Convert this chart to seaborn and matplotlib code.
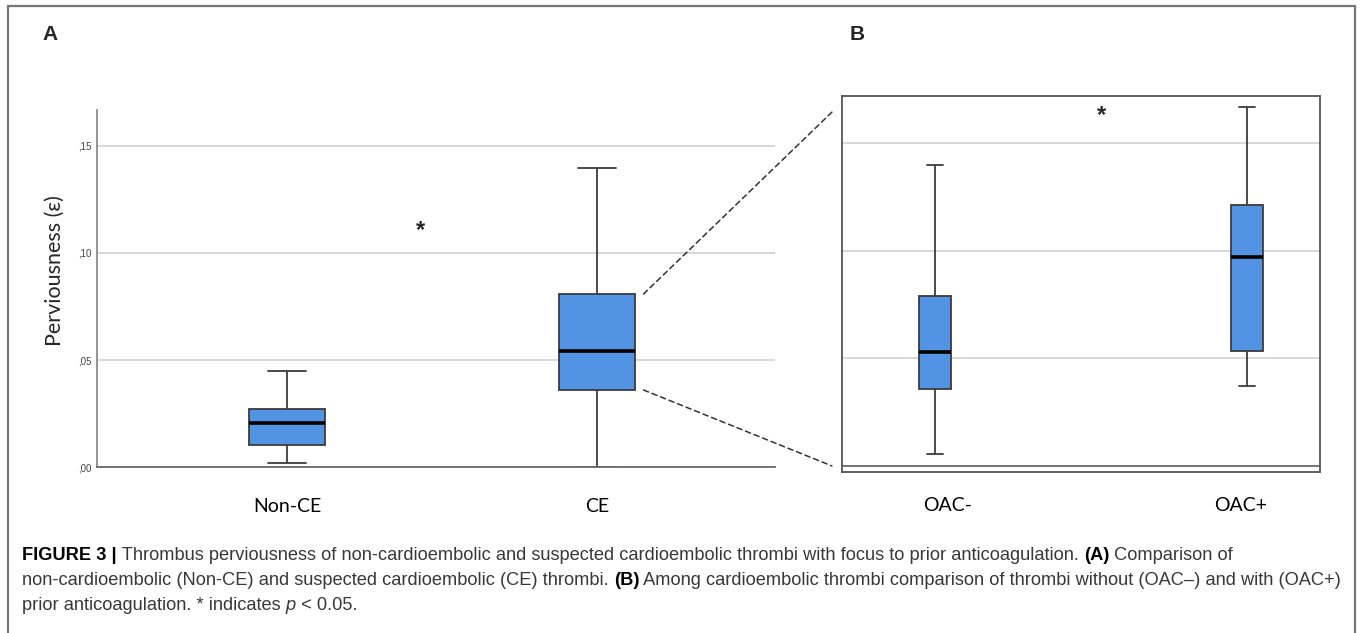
import matplotlib
matplotlib.use("Agg")
import matplotlib.pyplot as plt
from matplotlib.patches import Rectangle, ConnectionPatch
import numpy as np
import pandas as pd
import seaborn as sns

# five-number summaries: min, q1, median, q3, max
groups_a = ["Non-CE", "CE"]
non_ce = [0.0019, 0.0103, 0.0206, 0.0271, 0.0450]
ce = [0.0000, 0.0360, 0.0542, 0.0808, 0.1397]

groups_b = ["OAC-", "OAC+"]
oac_neg = [0.0056, 0.0356, 0.0528, 0.0787, 0.1398]
oac_pos = [0.0370, 0.0532, 0.0968, 0.1213, 0.1667]

yticks_a = [0.00, 0.05, 0.10, 0.15]
yticklabels_a = [",00", ",05", ",10", ",15"]

caption = [
    [("FIGURE 3 |", "bold", "normal"),
     (" Thrombus perviousness of non-cardioembolic and suspected cardioembolic thrombi with focus to prior anticoagulation. ", "normal", "normal"),
     ("(A)", "bold", "normal"), (" Comparison of", "normal", "normal")],
    [("non-cardioembolic (Non-CE) and suspected cardioembolic (CE) thrombi. ", "normal", "normal"),
     ("(B)", "bold", "normal"),
     (" Among cardioembolic thrombi comparison of thrombi without (OAC\u2013) and with (OAC+)", "normal", "normal")],
    [("prior anticoagulation. * indicates ", "normal", "normal"), ("p", "normal", "italic"),
     (" < 0.05.", "normal", "normal")],
]

df_a = pd.DataFrame({"group": np.repeat(groups_a, 5), "value": non_ce + ce})
df_b = pd.DataFrame({"group": np.repeat(groups_b, 5), "value": oac_neg + oac_pos})

sns.set_style("white")
plt.rcParams["font.family"] = ["Liberation Sans", "DejaVu Sans"]

blue = "#5393e3"
edge = "#3c3c3c"
label_font = ["Lato", "DejaVu Sans"]

fig = plt.figure(figsize=(13.6, 6.33), dpi=100)
ax_a = fig.add_axes([0.0713, 0.2622, 0.4985, 0.564])
ax_b = fig.add_axes([0.6191, 0.2544, 0.3515, 0.5940])

box_kws = dict(x="group", y="value", color=blue, saturation=1, whis=(0, 100),
               linecolor=edge, linewidth=1.3, fliersize=0,
               medianprops=dict(color="black", linewidth=2.6))

sns.boxplot(data=df_a, ax=ax_a, width=0.248, **box_kws)
sns.boxplot(data=df_b, ax=ax_b, width=0.103, **box_kws)

# panel A
ax_a.set_xlim(-0.613, 1.574)
ax_a.set_ylim(0, 0.1668)
ax_a.set_yticks(yticks_a)
ax_a.set_yticklabels(yticklabels_a, fontsize=7, color="#444444")
ax_a.yaxis.grid(True, color="#d4d4d4", linewidth=1.3)
ax_a.set_axisbelow(True)
for side in ["top", "right"]:
    ax_a.spines[side].set_visible(False)
ax_a.spines["left"].set_color("#8c8c8c")
ax_a.spines["bottom"].set_color("#6a6a6a")
ax_a.spines["left"].set_linewidth(1.3)
ax_a.spines["bottom"].set_linewidth(1.3)
ax_a.tick_params(axis="both", length=0)
ax_a.tick_params(axis="y", pad=4)
ax_a.tick_params(axis="x", pad=22)
ax_a.set_xlabel("")
ax_a.set_ylabel("Perviousness (\u03b5)", fontsize=15.5, family=label_font)
ax_a.yaxis.label.set_va("center")
ax_a.yaxis.set_label_coords(-0.062, 0.55)
for t in ax_a.get_xticklabels():
    t.set_fontfamily(label_font)
    t.set_fontsize(14)
    t.set_color("black")
ax_a.text(0.43, 0.1107, "*", ha="center", va="center", fontsize=17, fontweight="bold")

# panel B
ax_b.set_xlim(-0.298, 1.234)
ax_b.set_ylim(-0.0028, 0.1718)
ax_b.set_yticks([0.05, 0.10, 0.15])
ax_b.set_yticklabels([])
ax_b.yaxis.grid(True, color="#d4d4d4", linewidth=1.3)
ax_b.axhline(0, color="#6a6a6a", linewidth=1.3, zorder=0.5)
ax_b.set_axisbelow(True)
for side in ax_b.spines:
    ax_b.spines[side].set_color("#555555")
    ax_b.spines[side].set_linewidth(1.3)
ax_b.set_xticks([0.04, 0.98])
ax_b.set_xticklabels(groups_b, fontsize=14, family=label_font, color="black")
ax_b.tick_params(axis="both", length=0)
ax_b.tick_params(axis="x", pad=18)
ax_b.set_xlabel("")
ax_b.set_ylabel("")
ax_b.text(0.535, 0.1625, "*", ha="center", va="center", fontsize=17, fontweight="bold")

# zoom connectors from the CE box to panel B
for ya, yb in [(ce[3], 0.957), (ce[1], 0.016)]:
    con = ConnectionPatch(xyA=(1.15, ya), coordsA=ax_a.transData,
                          xyB=(-0.021, yb), coordsB=ax_b.transAxes,
                          linestyle=(0, (3.5, 2.5)), color="#333333", linewidth=1.1)
    fig.add_artist(con)

fig.text(0.0368, 0.946, "A", fontsize=15, fontweight="bold", ha="center", va="center")
fig.text(0.6301, 0.946, "B", fontsize=15, fontweight="bold", ha="center", va="center")

# outer frame
fig.add_artist(Rectangle((0.0059, -0.02), 0.9904, 1.0105, transform=fig.transFigure,
                         fill=False, edgecolor="#777777", linewidth=1.6))

# caption, drawn piece by piece
renderer = fig.canvas.get_renderer()
line_y = [0.1232, 0.0837, 0.0442]
for y, parts in zip(line_y, caption):
    x = 0.0162
    for s, w, st in parts:
        t = fig.text(x, y, s, fontsize=13.15, fontweight=w, fontstyle=st,
                     family="Liberation Sans",
                     color="black" if w == "bold" else "#383838", va="center")
        x += t.get_window_extent(renderer).width / fig.bbox.width

fig.savefig("out.png", dpi=100)
